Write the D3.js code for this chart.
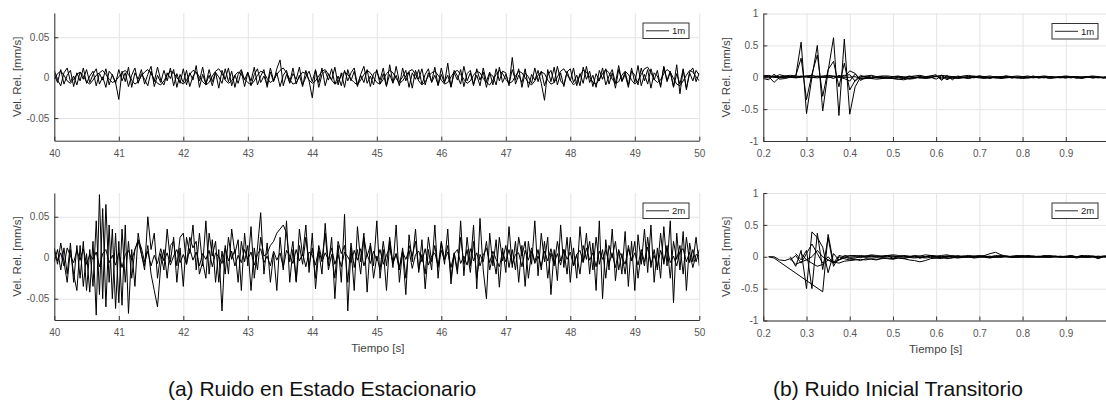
<!DOCTYPE html>
<html>
<head>
<meta charset="utf-8">
<title>Ruido</title>
<script src="https://d3js.org/d3.v7.min.js"></script>
<style>
  body { margin: 0; background: #fff; }
  svg { display: block; font-family: "Liberation Sans", Arial, sans-serif; }
  .grid line { stroke: #e4e4e4; }
  .grid .domain { stroke: none; }
  .axis path, .axis line { stroke: #333; }
  .axis text { fill: #555; font-size: 10px; font-family: "Liberation Sans", Arial, sans-serif; }
  .trace { fill: none; stroke: #000; stroke-width: 1; stroke-linejoin: round; }
  .label { fill: #444; font-size: 11.5px; }
  .caption { fill: #111; font-size: 21px; }
</style>
</head>
<body>
<svg id="chart" width="1106" height="401"></svg>
<script>
// ---- data (mm/s) ----
// estado estacionario, muestras cada 0.05 s desde 40 s
const ssStart = 40, ssStep = 0.05;
const ss1m_a = [
  .004,-.006,.010,-.008,.003,.009,-.011,.006,-.004,.012,-.007,.002,.008,-.010,.005,-.003,.011,-.009,.004,-.006,
  -.027,.008,-.005,.013,-.012,.006,-.002,.010,-.008,.004,.014,-.011,.003,-.006,.009,-.004,.012,-.010,.005,-.007,
  .011,-.009,.006,-.003,.015,-.012,.004,-.008,.010,-.005,.007,-.013,.009,-.002,.012,-.010,.003,-.007,.008,-.011,
  .006,-.004,.013,-.009,.002,.010,-.012,.007,-.005,.011,.022,-.010,.004,-.006,.012,-.008,.003,-.011,.009,-.004,
  -.025,.009,-.006,.012,-.010,.005,-.003,.013,-.009,.006,-.012,.010,-.004,.008,-.011,.004,.014,-.007,.002,-.009,
  .010,-.008,.005,-.011,.016,-.006,.003,-.010,.012,-.004,.007,-.013,.009,-.002,.011,-.009,.006,-.005,.013,-.010,
  .004,-.007,.018,-.012,.006,-.003,.010,-.011,.005,.009,-.008,.003,-.010,.012,-.005,.007,-.009,.011,-.004,.008,
  .006,-.010,.025,-.008,.003,-.006,.011,-.012,.004,-.003,.009,-.007,-.028,.010,-.005,.013,-.009,.006,-.011,.008,
  -.004,.012,-.010,.005,-.007,.014,-.006,.003,-.012,.009,-.002,.011,-.008,.006,-.013,.010,-.004,.007,-.009,.012,
  -.006,.015,-.010,.004,-.008,.011,-.003,.009,-.012,.013,-.005,.007,-.011,.016,-.020,.010,-.013,.006,-.004,.009,
  .003];
const ss1m_b = [
  -.002,.005,.008,.003,-.004,-.007,-.002,.004,.007,.002,-.005,-.008,-.003,.003,.006,.009,.004,-.002,-.006,-.004,
  .001,.006,.009,.004,-.003,-.008,-.005,.002,.007,.010,.005,-.002,-.007,-.009,-.004,.003,.008,.006,.000,-.005,
  -.008,-.003,.004,.009,.007,.001,-.005,-.009,-.006,.002,.008,.011,.005,-.003,-.007,-.004,.003,.007,.004,-.002,
  -.006,-.009,-.004,.003,.008,.006,-.001,-.006,-.003,.004,.009,.012,.006,-.002,-.008,-.006,.001,.007,.005,-.003,
  -.007,-.004,.002,.008,.010,.004,-.003,-.008,-.005,.003,.007,.004,-.002,-.006,-.009,-.003,.004,.009,.006,.000,
  -.006,-.008,-.002,.005,.009,.006,-.001,-.007,-.004,.002,.008,.010,.004,-.004,-.009,-.005,.002,.006,.008,.003,
  -.003,-.008,-.006,.001,.007,.009,.004,-.002,-.007,-.004,.003,.008,.006,-.001,-.006,-.009,-.003,.004,.009,.005,
  -.002,-.007,-.005,.002,.008,.006,.000,-.006,-.009,-.004,.003,.007,.005,-.003,-.008,-.006,.001,.008,.011,.004,
  -.003,-.009,-.005,.003,.009,.007,.001,-.006,-.008,-.002,.005,.010,.006,-.002,-.007,-.005,.003,.008,.004,-.003,
  -.008,-.004,.004,.011,.013,.006,-.002,-.006,-.003,.005,.010,.007,-.001,-.008,-.010,-.004,.003,.009,.007,.001,
  -.004];
const ss1m_c = [
  .009,-.003,-.010,.006,.012,-.005,.002,-.009,.007,-.002,.010,-.006,.004,.011,-.008,.001,-.012,.008,.003,-.007,
  .010,-.004,.006,-.011,.003,.012,-.007,.005,-.002,-.010,.008,-.005,.013,-.003,-.009,.006,-.001,.010,-.012,.004,
  -.006,.009,-.011,.002,.007,-.004,.013,-.008,.003,-.010,.006,.001,-.007,.011,-.005,.008,-.012,.004,.010,-.003,
  .007,-.010,.004,.011,-.006,.002,-.009,.012,-.004,.006,-.011,.003,.009,-.007,.005,-.002,.013,-.009,.001,.008,
  -.005,.010,-.012,.004,.008,-.003,.011,-.008,.002,-.010,.009,-.004,.006,.012,-.009,.003,-.006,.010,-.011,.005,
  .008,-.003,.012,-.010,.004,-.007,.014,-.005,.001,.009,-.012,.006,-.002,.010,-.008,.004,.011,-.006,.003,-.009,
  .012,-.005,.003,-.011,.009,.002,-.008,.014,-.004,.006,-.010,.011,-.003,.007,-.012,.005,.002,-.009,.013,-.006,
  .004,-.008,.010,-.003,.011,-.012,.006,.001,-.007,.012,-.005,.008,-.010,.003,.009,-.006,.014,-.004,-.009,.007,
  .011,-.006,.003,-.010,.013,-.002,.008,-.011,.005,-.004,.012,-.009,.002,.010,-.007,.015,-.005,.004,-.012,.008,
  .003,-.009,.012,-.004,.010,-.013,.006,.002,-.010,.014,-.003,.008,-.012,.005,-.008,.011,-.015,.007,.012,-.005,
  .006];
const ss2m_a = [
  .012,-.008,.018,-.005,-.030,.010,-.020,-.040,.015,-.035,.005,-.042,.020,-.070,.077,-.050,.065,-.030,.035,-.062,
  .020,-.058,.040,-.068,.010,-.035,.030,.005,-.015,.050,.010,.030,-.025,.005,-.015,.035,-.005,.025,-.030,.012,
  -.035,.025,.005,.040,-.015,.030,-.010,.045,-.020,.022,-.030,.010,-.065,.015,-.020,.035,.005,.022,-.040,.030,
  -.010,.038,-.025,.012,.055,-.020,.018,-.030,.005,-.040,.025,-.015,.045,-.030,.010,-.028,.035,.002,.040,-.018,
  .030,-.038,.008,-.020,.042,-.010,.025,-.050,.015,-.030,.053,-.065,.012,-.040,.038,-.005,.030,-.042,.018,-.010,
  .045,-.025,.010,-.040,.020,-.012,.040,-.030,.008,-.045,.028,-.005,.035,-.018,.022,-.038,.010,-.015,.040,-.025,
  .018,-.008,.035,-.032,.005,-.020,.045,-.022,.025,-.010,.040,-.038,.048,-.015,-.050,.030,-.010,.022,-.036,.012,
  -.018,.038,-.012,.020,-.030,.015,-.035,.020,-.008,.045,-.022,.030,-.005,.025,-.045,.010,-.028,.040,-.012,.025,
  -.030,.012,-.025,.038,-.005,.030,-.020,.018,-.040,.045,-.050,.022,-.015,.035,-.028,.010,-.020,.032,-.035,.020,
  -.040,.028,-.008,.035,-.018,.040,-.030,.012,-.025,.038,-.010,.045,-.055,.030,-.015,.032,-.040,.018,-.005,.025,
  -.010];
const ss2m_b = [
  -.005,.010,-.015,.012,-.020,.018,-.030,.015,-.025,.020,-.040,.010,-.035,.045,-.045,.060,-.060,.040,-.050,.030,
  -.055,.035,-.030,.020,-.025,.010,.020,.005,-.010,.015,-.020,-.040,-.060,-.010,.010,-.025,.015,.020,-.010,.025,
  .030,-.008,.025,.012,.020,-.020,-.005,-.025,.030,.002,.020,-.030,.008,-.020,.025,-.002,.010,-.030,.020,-.005,
  .015,-.040,.012,-.015,.025,.002,.005,.015,.020,.030,.035,.040,.030,-.005,.020,-.030,.015,-.008,.025,-.010,
  .012,-.025,.015,-.002,.030,-.015,.004,-.025,.020,.005,.015,-.030,.018,-.012,.010,-.020,.025,.002,.015,-.025,
  .002,-.015,.020,-.010,.025,-.008,.005,-.015,.012,-.025,.015,.002,.020,-.015,.004,-.020,.025,-.005,.015,-.012,
  .020,-.002,.015,-.025,.006,-.015,.025,-.008,.010,-.018,.020,-.025,.004,-.005,.020,-.015,.003,-.020,.025,-.004,
  .015,-.012,.010,-.015,.025,.002,.020,-.025,.008,-.005,.010,-.015,.020,-.025,.006,-.010,.020,-.004,.010,-.020,
  .025,-.010,.004,-.020,.015,-.002,.020,-.015,.025,-.008,.010,-.025,.015,.000,.020,-.015,.005,-.020,.015,-.004,
  .020,-.025,.006,-.010,.025,-.012,.010,-.015,.030,-.008,.015,-.025,.020,-.002,.015,-.020,.025,-.006,.010,-.005,
  .010];
const ss2m_c = [
  .008,-.004,.006,-.010,.012,.002,-.006,.009,-.003,.011,-.008,.004,-.002,.007,-.011,.005,.010,-.006,.003,-.009,
  .006,-.012,.004,.009,-.003,.010,.022,.012,-.005,.008,-.010,.003,-.007,.011,-.004,.006,-.009,.002,.010,-.006,
  .004,-.008,.011,-.003,.007,-.010,.005,-.002,.009,-.011,.006,.001,-.007,.012,-.004,.008,-.010,.003,-.006,.010,
  -.002,.007,-.009,.004,.011,-.006,.002,-.010,.008,-.003,.006,-.012,.009,.002,-.007,.010,-.004,.005,-.011,.007,
  .003,-.009,.010,-.005,.006,-.002,.012,-.008,.004,-.011,.007,.001,-.006,.009,-.003,.011,-.010,.004,-.007,.008,
  -.004,.010,-.008,.003,.012,-.006,.005,-.011,.007,-.002,.009,-.013,.004,.008,-.005,.011,-.009,.002,.006,-.010,
  .009,-.003,.007,-.012,.005,.010,-.007,.002,-.009,.011,-.004,.006,-.010,.003,.012,-.006,.008,-.002,-.011,.007,
  -.005,.010,-.008,.004,.006,-.011,.009,-.003,.012,-.007,.002,-.010,.008,-.004,.011,-.006,.005,-.009,.010,-.002,
  .007,-.010,.004,.009,-.006,.012,-.003,.006,-.011,.008,-.002,.010,-.007,.005,-.012,.009,.001,-.008,.011,-.004,
  .006,-.009,.010,-.005,.013,-.007,.003,-.011,.009,-.004,.012,-.006,.002,-.010,.008,.011,-.005,.007,-.012,.004,
  .002];

// transitorio inicial, muestras cada 0.0125 s desde 0.2 s (null = sin muestra)
const trStart = 0.2, trStep = 0.0125;
const tr1m = [
  [.01,.02,.01,.00,.01,.00,.01,.55, -.57,.00,.50,-.53,.10,.62,-.60,.60, -.58,-.15,.00,.01,-.01,.00,.01,-.02,
   .00,.01,-.01,.02,.00,-.01,.01,.00, .02,-.01,.00,.01,-.01,.00,.01,.02, .00,-.01,.00,.01,-.01,.00,.01,.00,
   -.01,.00,.01,.00,-.01,.01,.00,.00, -.01,.01,.00,.00,.01,-.01,.00,.00, .01],
  [.00,-.01,.02,.01,.00,.01,.02,.30, -.35,.05,.35,-.30,.12,.25,-.15,.22, -.20,-.05,.03,.00,-.02,.01,.00,-.01,
   .01,.00,-.02,.01,.00,.01,-.01,.00, .01,.03,-.02,.00,.01,.00,-.01,.01, .00,.01,.00,-.01,.00,.01,.00,-.01,
   .01,.00,-.01,.00,.01,.00,.00,.01, .00,-.01,.01,.00,.00,.01,.00,-.01, .00],
  [.03,.01,-.08,.00,.02,.01,.00,.02, .01,-.01,.02,.00,.01,-.02,.03,.00, .10,.06,-.05,.00,.02,-.01,.00,.01,
   -.02,.00,.01,-.03,-.02,.01,.00,.02, .04,-.05,.03,-.04,.02,.00,.01,-.01, .02,.00,-.02,.01,.00,.02,-.01,.00,
   .01,.00,.02,-.01,.00,.01,.00,-.01, .00,.01,-.01,.00,.01,.00,.00,-.01, .00],
  [-.02,-.04,.05,-.03,-.02,.00,-.01,.00, .02,.00,-.01,.01,.00,.01,.00,-.02, -.06,.05,-.03,-.02,-.01,.00,-.02,-.01,
   -.02,-.03,-.04,-.02,-.01,.00,-.01,.00, -.03,.02,-.04,.00,-.02,-.01,-.02,.00, -.01,-.02,.00,-.01,-.02,-.01,.00,-.01,
   -.02,-.01,.00,-.01,.00,-.02,-.01,.00, -.01,.00,-.01,-.02,.00,-.01,.00,-.01, -.01],
  [.02,.03,.00,.04,.02,.03,.02,.01, .02,.03,.01,.02,.03,.02,.01,.03, .04,-.06,.01,.02,.03,.01,.02,.02,
   .01,.02,.00,.01,.02,.03,.01,.02, .01,.03,.02,.01,.00,.02,.03,.01, .02,.01,.02,.00,.01,.02,.01,.02,
   .01,.02,.00,.01,.02,.01,.00,.01, .02,.01,.01,.00,.01,.02,.01,.00, .01],
  [.00,.01,.00,-.01,.00,.00,.00,.01, .00,.00,.01,.00,.00,.01,.00,.00, .00,.01,-.02,-.01,-.02,-.03,-.02,-.01,
   -.02,-.03,-.02,-.01,.00,-.01,-.02,-.01, .02,-.03,.01,-.02,-.01,.00,-.01,.00, .01,.00,-.01,.00,.01,.00,-.01,.00,
   .00,-.01,.00,.01,.00,-.01,.00,.00, .01,.00,-.01,.00,.01,.00,-.01,.00, .00]
];
const tr2m = [
  [null,.00,-.02,-.08,null,null,null,null, null,null,null,-.55,.35,-.10,.02,.00, -.03,-.02,.00,-.01,.00,.01,-.01,.00,
   .01,.00,-.01,.00,.01,-.02,.00,.01, .00,-.01,.01,.00,.02,.00,-.01,.00, .01,.00,.01,-.01,.00,.01,.00,-.01,
   .00,.01,.00,.00,-.01,.00,.01,.00, .00,-.01,.00,.01,.00,.00,-.01,.00, .01],
  [null,.00,.00,-.05,-.06,-.03,-.12,-.08, -.05,-.10,-.15,-.12,-.05,-.08,-.10,-.07, -.06,-.05,-.04,-.05,-.03,-.04,-.03,-.02,
   -.03,-.02,-.03,-.01,-.02,-.01,-.02,-.01, -.02,-.03,.00,-.01,-.02,-.01,.00,-.01, .00,-.01,-.02,.00,-.01,.00,-.01,.00,
   -.01,.00,-.01,.00,.00,-.01,.00,-.01, .00,-.01,.00,.00,-.01,.00,-.02,.00, .00],
  [null,null,null,null,null,.00,-.15,.10, -.50,.39,.30,.15,-.25,.05,-.05,.02, .01,.02,.00,.01,.02,.00,.01,.02,
   .01,.00,.02,.01,.00,.01,.00,.02, .01,.00,-.01,.02,.00,.01,.00,.01, .00,.02,.05,.07,.03,.01,.00,.01,
   .02,.00,.01,.00,.01,.02,.00,.01, .00,.01,.00,.02,.00,.01,.00,.01, .00],
  [null,null,null,null,null,null,.05,-.05, .10,-.50,.37,-.20,.30,-.15,.00,-.03, -.05,-.04,-.06,-.03,-.04,-.05,-.02,-.03,
   -.04,-.02,-.03,-.05,-.06,-.08,-.06,-.03, -.02,-.01,-.03,-.02,.00,-.01,.00,-.02, -.01,.00,-.01,.00,.02,.00,-.01,.00,
   .00,-.01,.00,.01,.00,-.01,.00,.00, -.01,.00,-.02,.00,-.01,.00,-.03,.00, -.01],
  [null,null,null,null,null,-.05,.02,-.10, .05,.20,.05,-.10,.00,-.10,-.05,-.02, .02,.01,.02,.01,.03,.02,.01,.02,
   .03,.02,.01,.00,.02,.01,.03,.02, .01,.02,.03,.01,.00,.01,.02,.01, .02,.01,.00,.02,.01,.00,.01,.02,
   .01,.02,.01,.00,.02,.01,.01,.00, .01,.02,.00,.01,.02,.01,.00,.01, .02],
  [null,null,null,null,null,null,null,.05, -.05,.00,.10,.00,-.05,-.10,-.05,.00, -.01,.00,-.01,.01,.00,-.01,.00,.01,
   -.02,.00,.01,-.01,.00,-.02,.00,.01, -.01,.00,.01,.00,-.01,.00,.01,.00, .00,.01,-.01,.00,.00,.01,.00,-.01,
   .01,.00,.00,-.01,.00,.01,.00,.00, .00,.01,.00,-.01,.00,.00,.01,.00, .00]
];

// ticks
const ssXTicks = [40, 41, 42, 43, 44, 45, 46, 47, 48, 49, 50];
const ssYTicks = [-0.05, 0, 0.05];
const trXTicks = [0.2, 0.3, 0.4, 0.5, 0.6, 0.7, 0.8, 0.9];
const trYTicks = [-1, -0.5, 0, 0.5, 1];

// ---- drawing ----
const svg = d3.select('#chart');
svg.append('rect').attr('width', 1106).attr('height', 401).attr('fill', '#fff');

const panels = [
  {id: 'a1', x0: 54.3, x1: 699.3, y0: 13, y1: 140.7, xd: [40, 50], yd: [-0.078, 0.08],
   xt: ssXTicks, yt: ssYTicks, series: [ss1m_b, ss1m_c, ss1m_a], start: ssStart, step: ssStep, legend: '1m', lx: 643},
  {id: 'a2', x0: 54.3, x1: 699.3, y0: 193, y1: 320, xd: [40, 50], yd: [-0.076, 0.079],
   xt: ssXTicks, yt: ssYTicks, series: [ss2m_c, ss2m_b, ss2m_a], start: ssStart, step: ssStep, legend: '2m', lx: 643, xlabel: true},
  {id: 'b1', x0: 763.3, x1: 1109, y0: 13.5, y1: 141, xd: [0.2, 1], yd: [-1, 1],
   xt: trXTicks, yt: trYTicks, series: tr1m, start: trStart, step: trStep, legend: '1m', lx: 1052},
  {id: 'b2', x0: 763.3, x1: 1109, y0: 193, y1: 320.5, xd: [0.2, 1], yd: [-1, 1],
   xt: trXTicks, yt: trYTicks, series: tr2m, start: trStart, step: trStep, legend: '2m', lx: 1052, xlabel: true}
];

panels.forEach(p => {
  const x = d3.scaleLinear().domain(p.xd).range([p.x0, p.x1]);
  const y = d3.scaleLinear().domain(p.yd).range([p.y1, p.y0]);
  const w = p.x1 - p.x0, h = p.y1 - p.y0;

  svg.append('clipPath').attr('id', 'clip-' + p.id)
    .append('rect').attr('x', p.x0).attr('y', p.y0).attr('width', w).attr('height', h);

  // grid
  svg.append('g').attr('class', 'grid')
    .attr('transform', `translate(0,${p.y1})`)
    .call(d3.axisBottom(x).tickValues(p.xt).tickSize(-h).tickFormat(''));
  svg.append('g').attr('class', 'grid')
    .attr('transform', `translate(${p.x0},0)`)
    .call(d3.axisLeft(y).tickValues(p.yt).tickSize(-w).tickFormat(''));

  // traces
  const line = d3.line().x(d => x(d[0])).y(d => y(d[1]));
  const g = svg.append('g').attr('clip-path', `url(#clip-${p.id})`);
  p.series.forEach(vals => {
    const pts = vals.map((v, i) => [p.start + i * p.step, v]).filter(d => d[1] !== null);
    g.append('path').attr('class', 'trace').attr('d', line(pts));
  });

  // axes
  svg.append('g').attr('class', 'axis')
    .attr('transform', `translate(0,${p.y1})`)
    .call(d3.axisBottom(x).tickValues(p.xt).tickSizeInner(-4).tickSizeOuter(0)
      .tickPadding(9).tickFormat(d => String(d)));
  svg.append('g').attr('class', 'axis')
    .attr('transform', `translate(${p.x0},0)`)
    .call(d3.axisLeft(y).tickValues(p.yt).tickSizeInner(-4).tickSizeOuter(0)
      .tickPadding(5).tickFormat(d => String(d)));

  // y label
  svg.append('text').attr('class', 'label')
    .attr('transform', `translate(${p.x0 - 33},${(p.y0 + p.y1) / 2}) rotate(-90)`)
    .attr('text-anchor', 'middle')
    .text('Vel. Rel. [mm/s]');

  if (p.xlabel) {
    svg.append('text').attr('class', 'label')
      .attr('x', (p.x0 + Math.min(p.x1, 1106)) / 2 + 1).attr('y', p.y1 + 32)
      .attr('text-anchor', 'middle')
      .text('Tiempo [s]');
  }

  // legend
  const lg = svg.append('g').attr('transform', `translate(${p.lx},${p.y0 + 10})`);
  lg.append('rect').attr('width', 46).attr('height', 15.5)
    .attr('fill', '#fff').attr('stroke', '#333').attr('stroke-width', 1);
  lg.append('line').attr('x1', 3).attr('x2', 26).attr('y1', 7.8).attr('y2', 7.8)
    .attr('stroke', '#111').attr('stroke-width', 0.9);
  lg.append('text').attr('x', 29).attr('y', 11.3)
    .style('font-size', '9.5px').attr('fill', '#222')
    .text(p.legend);
});

// captions
svg.append('text').attr('class', 'caption')
  .attr('x', 322).attr('y', 396).attr('text-anchor', 'middle')
  .text('(a) Ruido en Estado Estacionario');
svg.append('text').attr('class', 'caption')
  .attr('x', 898).attr('y', 396).attr('text-anchor', 'middle')
  .text('(b) Ruido Inicial Transitorio');
</script>
</body>
</html>
